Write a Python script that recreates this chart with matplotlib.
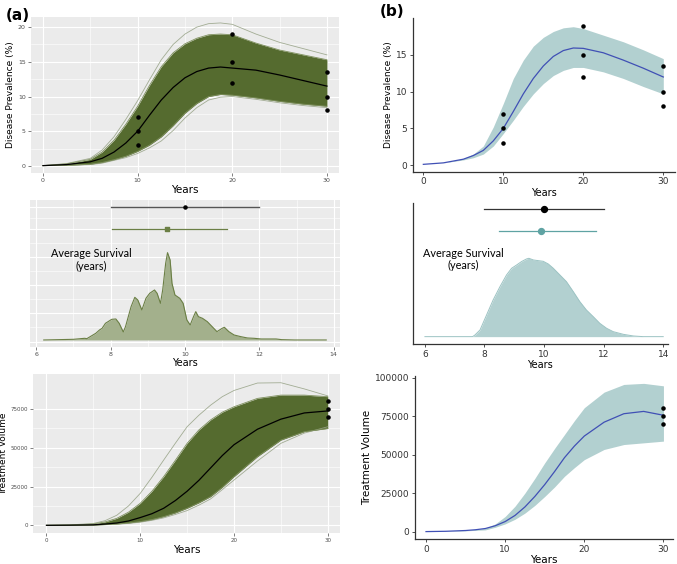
import matplotlib
matplotlib.use("Agg")
import matplotlib.pyplot as plt
import numpy as np

# ---- data ----
years = [0, 2.5, 5, 6.25, 7.5, 8.75, 10, 11.25, 12.5, 13.75, 15, 16.25, 17.5, 18.75,
         20, 22.5, 25, 27.5, 30]

# (a) prevalence ensemble
prev_a_mean = [0.05, 0.2, 0.6, 1.1, 2.0, 3.3, 5.0, 7.3, 9.5, 11.3, 12.7, 13.6, 14.1, 14.25,
               14.1, 13.8, 13.1, 12.3, 11.5]
prev_a_upper = [0.05, 0.3, 0.95, 2.0, 3.7, 6.0, 8.6, 11.6, 14.3, 16.3, 17.6, 18.4, 18.9, 19.0,
                18.9, 17.7, 16.7, 16.0, 15.3]
prev_a_lower = [0.05, 0.1, 0.25, 0.5, 0.9, 1.4, 2.1, 3.0, 4.2, 5.8, 7.6, 9.0, 10.0, 10.3,
                10.2, 9.8, 9.3, 8.9, 8.6]
prev_a_stray_hi = [0.05, 0.35, 1.1, 2.3, 4.2, 6.7, 9.4, 12.4, 15.3, 17.5, 19.0, 20.0, 20.5, 20.6,
                   20.4, 19.0, 17.8, 16.9, 16.0]
prev_a_stray_lo = [0.05, 0.08, 0.2, 0.4, 0.8, 1.2, 1.8, 2.6, 3.6, 5.1, 6.9, 8.4, 9.5, 9.9,
                   10.0, 9.6, 9.1, 8.7, 8.4]

# (b) prevalence band
prev_b_mean = [0.1, 0.3, 0.8, 1.3, 2.0, 3.3, 5.0, 7.3, 9.7, 11.8, 13.5, 14.8, 15.6, 15.95,
               15.9, 15.3, 14.3, 13.2, 12.0]
prev_b_upper = [0.1, 0.3, 0.9, 1.5, 2.6, 5.2, 8.4, 11.8, 14.3, 16.2, 17.4, 18.2, 18.7, 18.85,
                18.6, 17.7, 16.8, 15.7, 14.5]
prev_b_lower = [0.1, 0.3, 0.7, 1.0, 1.5, 2.6, 4.3, 6.1, 8.0, 9.7, 11.1, 12.2, 12.9, 13.3,
                13.3, 12.7, 11.8, 10.7, 9.7]

obs_years = [10, 10, 10, 20, 20, 20, 30, 30, 30]
obs_prev = [3, 5, 7, 12, 15, 19, 8, 10, 13.5]

# (a) survival density
surv_a_x = [6.2, 7.0, 7.3, 7.36, 7.6, 7.7, 7.77, 7.86, 8.03, 8.14, 8.23, 8.34, 8.4, 8.55,
            8.65, 8.73, 8.84, 8.95, 9.05, 9.18, 9.25, 9.34, 9.4, 9.48, 9.53, 9.6, 9.65,
            9.73, 9.86, 9.95, 10.05, 10.14, 10.23, 10.29, 10.36, 10.47, 10.6, 10.73,
            10.86, 11.0, 11.06, 11.18, 11.32, 11.5, 11.68, 11.86, 12.05, 12.45, 12.6,
            12.95, 13.8]
surv_a_y = [0.0, 0.02, 0.05, 0.04, 0.2, 0.3, 0.35, 0.5, 0.62, 0.63, 0.5, 0.24, 0.4, 1.0,
            1.28, 1.2, 0.9, 1.25, 1.4, 1.5, 1.4, 1.1, 1.5, 2.3, 2.62, 2.4, 1.7, 1.35,
            1.25, 1.1, 0.6, 0.45, 0.7, 0.85, 0.7, 0.65, 0.55, 0.4, 0.25, 0.35, 0.38,
            0.25, 0.15, 0.1, 0.06, 0.05, 0.03, 0.03, 0.01, 0.0, 0.0]

# (b) survival density
surv_b_x = [6.0, 7.6, 7.68, 7.85, 8.07, 8.29, 8.52, 8.74, 8.91, 9.08, 9.24, 9.41, 9.49,
            9.64, 9.8, 9.97, 10.14, 10.31, 10.53, 10.75, 10.98, 11.2, 11.42, 11.65,
            11.87, 12.1, 12.32, 12.66, 13.0, 13.33, 14.0]
surv_b_y = [0.0, 0.0, 0.05, 0.2, 0.65, 1.1, 1.5, 1.85, 2.05, 2.15, 2.25, 2.33, 2.35,
            2.3, 2.28, 2.26, 2.18, 2.05, 1.85, 1.65, 1.35, 1.05, 0.8, 0.6, 0.4, 0.25,
            0.15, 0.07, 0.02, 0.0, 0.0]

# survival summaries: (mean, low, high)
surv_obs = (10.0, 8.0, 12.0)
surv_a_fit = (9.52, 8.03, 11.14)
surv_b_fit = (9.91, 8.49, 11.73)

# (a) treatment ensemble
treat_a_mean = [0, 100, 300, 800, 1500, 2800, 5000, 7500, 11000, 16000, 22000, 29000, 37000,
                45000, 52000, 62000, 68500, 72500, 73800]
treat_a_upper = [0, 200, 860, 2200, 4500, 8500, 14200, 22000, 31400, 42000, 52900, 61500,
                 68000, 73000, 76500, 81900, 84000, 84000, 83000]
treat_a_lower = [0, 30, 200, 500, 900, 1500, 2400, 3700, 5600, 8000, 11000, 14500, 18500,
                 24500, 31400, 44300, 55000, 60400, 62500]
treat_a_stray_hi = [0, 300, 1200, 3000, 6500, 12500, 20600, 31000, 42100, 53000, 63600, 71000,
                    77500, 83000, 87000, 91800, 92000, 88000, 83500]
treat_a_stray_lo = [0, 20, 150, 400, 700, 1200, 2000, 3200, 4800, 7000, 9500, 13000, 17000,
                    23000, 29200, 41500, 52900, 59500, 63600]

# (b) treatment band
treat_b_mean = [0, 200, 700, 1200, 2000, 3800, 6500, 10500, 16000, 22800, 30500, 39000, 48000,
                55500, 62000, 71000, 76500, 78000, 75500]
treat_b_upper = [0, 250, 900, 1400, 2200, 5000, 9800, 16500, 25000, 34500, 44600, 54000, 63000,
                 72000, 80400, 90500, 95500, 96200, 94600]
treat_b_lower = [0, 150, 500, 800, 1100, 2800, 5000, 8000, 12000, 17000, 22800, 29000, 35900,
                 41500, 46700, 53300, 56500, 57600, 58700]

obs_treat_years = [30, 30, 30]
obs_treat = [70000, 75000, 80000]

# ---- styling ----
GREEN = "#556b2f"
GREEN_LIGHT = "#9aa58a"
DENS_A = "#a3b08c"
DENS_A_EDGE = "#6b7f45"
TEAL = "#b2d0d0"
TEAL_DARK = "#5fa3a3"
BLUE = "#4050b5"
PANEL = "#ebebeb"
NOTE_FONT = ["Lato", "DejaVu Sans"]

fig = plt.figure(figsize=(6.77, 5.64), dpi=100)


def gg_axes(rect, xlim, ylim, xticks, yticks, ylabels=True, tsize=4.5):
    ax = fig.add_axes(rect)
    ax.set_facecolor(PANEL)
    for s in ax.spines.values():
        s.set_visible(False)
    ax.set_xlim(*xlim)
    ax.set_ylim(*ylim)
    ax.set_xticks(xticks)
    ax.set_yticks(yticks)
    mx = [(a + b) / 2 for a, b in zip(xticks[:-1], xticks[1:])]
    my = [(a + b) / 2 for a, b in zip(yticks[:-1], yticks[1:])]
    ax.set_xticks(mx, minor=True)
    ax.set_yticks(my, minor=True)
    ax.grid(which="major", color="white", linewidth=0.8)
    ax.grid(which="minor", color="white", linewidth=0.4)
    ax.set_axisbelow(True)
    ax.tick_params(which="major", labelsize=tsize, colors="#4d4d4d", length=2, width=0.5, pad=1.5)
    ax.tick_params(which="minor", length=0)
    if not ylabels:
        ax.tick_params(axis="y", which="both", length=0, labelleft=False)
    return ax


def classic_axes(rect, xlim, ylim, xticks, yticks):
    ax = fig.add_axes(rect)
    ax.spines["top"].set_visible(False)
    ax.spines["right"].set_visible(False)
    for s in ("left", "bottom"):
        ax.spines[s].set_linewidth(0.9)
        ax.spines[s].set_color("#333333")
    ax.set_xlim(*xlim)
    ax.set_ylim(*ylim)
    ax.set_xticks(xticks)
    ax.set_yticks(yticks)
    ax.tick_params(labelsize=6.5, colors="#333333", length=2.5, width=0.6, pad=1.5)
    return ax


# ---- (a) top: disease prevalence ensemble ----
ax = gg_axes([0.0453, 0.6927, 0.4558, 0.2777], (-1.3, 31.3), (-1.06, 21.5),
             [0, 10, 20, 30], [0, 5, 10, 15, 20])
ax.plot(years, prev_a_stray_hi, color=GREEN_LIGHT, lw=0.6, alpha=0.9)
ax.plot(years, prev_a_stray_lo, color=GREEN_LIGHT, lw=0.6, alpha=0.9)
ax.fill_between(years, prev_a_lower, prev_a_upper, color=GREEN, lw=0)
ax.plot(years, prev_a_upper, color="#7d8f5c", lw=0.6)
ax.plot(years, prev_a_lower, color="#7d8f5c", lw=0.6)
ax.plot(years, prev_a_mean, color="black", lw=0.9)
ax.scatter(obs_years, obs_prev, s=5, color="black", zorder=5)
ax.set_xlabel("Years", fontsize=7.5, labelpad=1)
ax.set_ylabel("Disease Prevalence (%)", fontsize=6.5, labelpad=2)

# ---- (a) middle: average survival density ----
ax = gg_axes([0.0443, 0.3848, 0.4579, 0.2606], (5.83, 14.17), (-0.21, 4.2),
             [6, 8, 10, 12, 14], [-0.05, 0.8, 1.65, 2.5, 3.32, 4.0], ylabels=False)
ax.fill_between(surv_a_x, 0, surv_a_y, color=DENS_A, lw=0)
ax.plot(surv_a_x, surv_a_y, color=DENS_A_EDGE, lw=0.8)
ax.plot([surv_obs[1], surv_obs[2]], [4.0, 4.0], color="#555555", lw=1.0)
ax.scatter([surv_obs[0]], [4.0], s=5, color="black", zorder=5)
ax.plot([surv_a_fit[1], surv_a_fit[2]], [3.32, 3.32], color="#6b7f45", lw=0.9)
ax.scatter([surv_a_fit[0]], [3.32], s=5, color="#6b7f45", marker="s", zorder=5)
ax.text(7.48, 2.4, "Average Survival\n(years)", fontsize=7.8, ha="center", va="center",
        family=NOTE_FONT, linespacing=1.15)
ax.set_xlabel("Years", fontsize=7, labelpad=1)

# ---- (a) bottom: treatment volume ensemble ----
ax = gg_axes([0.0492, 0.0544, 0.453, 0.2824], (-1.4, 31.3), (-5160, 97600),
             [0, 10, 20, 30], [0, 25000, 50000, 75000], tsize=4)
ax.plot(years, treat_a_stray_hi, color=GREEN_LIGHT, lw=0.6, alpha=0.9)
ax.plot(years, treat_a_stray_lo, color=GREEN_LIGHT, lw=0.6, alpha=0.9)
ax.fill_between(years, treat_a_lower, treat_a_upper, color=GREEN, lw=0)
ax.plot(years, treat_a_upper, color="#7d8f5c", lw=0.6)
ax.plot(years, treat_a_lower, color="#7d8f5c", lw=0.6)
ax.plot(years, treat_a_mean, color="black", lw=0.9)
ax.scatter(obs_treat_years, obs_treat, s=5, color="black", zorder=5)
ax.set_xlabel("Years", fontsize=7.5, labelpad=1)
ax.set_ylabel("Treatment Volume", fontsize=6.5)
ax.yaxis.set_label_coords(-0.082, 0.5)

# ---- (b) top: disease prevalence band ----
ax = classic_axes([0.6096, 0.6956, 0.3874, 0.272], (-1.33, 31.46), (-0.9, 20),
                  [0, 10, 20, 30], [0, 5, 10, 15])
ax.fill_between(years, prev_b_lower, prev_b_upper, color=TEAL, lw=0)
ax.plot(years, prev_b_mean, color=BLUE, lw=0.9)
ax.scatter(obs_years, obs_prev, s=5, color="black", zorder=5)
ax.set_xlabel("Years", fontsize=7, labelpad=1)
ax.set_ylabel("Disease Prevalence (%)", fontsize=6.5, labelpad=2)

# ---- (b) middle: average survival density ----
ax = classic_axes([0.6096, 0.3901, 0.3771, 0.2495], (5.59, 14.16), (-0.22, 4.0),
                  [6, 8, 10, 12, 14], [])
ax.fill_between(surv_b_x, 0, surv_b_y, color=TEAL, lw=0)
ax.plot(surv_b_x, surv_b_y, color="#9cc3c3", lw=0.7)
ax.plot([surv_obs[1], surv_obs[2]], [3.82, 3.82], color="#333333", lw=0.9)
ax.scatter([surv_obs[0]], [3.82], s=18, color="black", zorder=5)
ax.plot([surv_b_fit[1], surv_b_fit[2]], [3.16, 3.16], color=TEAL_DARK, lw=0.9)
ax.scatter([surv_b_fit[0]], [3.16], s=18, color=TEAL_DARK, zorder=5)
ax.text(7.28, 2.32, "Average Survival\n(years)", fontsize=7.8, ha="center", va="center",
        family=NOTE_FONT, linespacing=1.15)
ax.set_xlabel("Years", fontsize=7, labelpad=1)

# ---- (b) bottom: treatment volume band ----
ax = classic_axes([0.613, 0.0438, 0.381, 0.2896], (-1.39, 31.2), (-5000, 101000),
                  [0, 10, 20, 30], [0, 25000, 50000, 75000, 100000])
ax.fill_between(years, treat_b_lower, treat_b_upper, color=TEAL, lw=0)
ax.plot(years, treat_b_mean, color=BLUE, lw=0.9)
ax.scatter(obs_treat_years, obs_treat, s=5, color="black", zorder=5)
ax.set_xlabel("Years", fontsize=7.5, labelpad=1)
ax.set_ylabel("Treatment Volume", fontsize=7.5, labelpad=2)

# panel tags
fig.text(0.008, 0.985, "(a)", fontsize=11, fontweight="bold", va="top")
fig.text(0.561, 0.993, "(b)", fontsize=11, fontweight="bold", va="top")

fig.savefig("out.png", dpi=100)
